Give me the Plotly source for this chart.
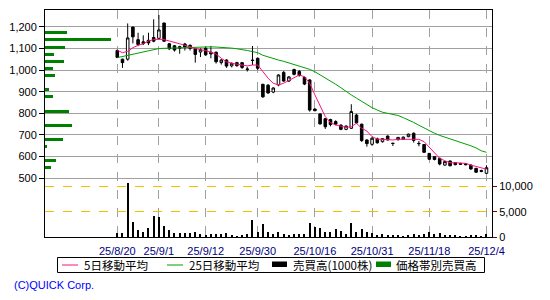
import plotly.graph_objects as go

# ---------------- data ----------------
dates = ["2025-08-20","2025-08-21","2025-08-22","2025-08-25","2025-08-26","2025-08-27","2025-08-28","2025-08-29",
         "2025-09-01","2025-09-02","2025-09-03","2025-09-04","2025-09-05","2025-09-08","2025-09-09","2025-09-10",
         "2025-09-11","2025-09-12","2025-09-16","2025-09-17","2025-09-18","2025-09-19","2025-09-22","2025-09-24",
         "2025-09-25","2025-09-26","2025-09-29","2025-09-30","2025-10-01","2025-10-02","2025-10-03","2025-10-06",
         "2025-10-07","2025-10-08","2025-10-09","2025-10-10","2025-10-14","2025-10-15","2025-10-16","2025-10-17",
         "2025-10-20","2025-10-21","2025-10-22","2025-10-23","2025-10-24","2025-10-27","2025-10-28","2025-10-29",
         "2025-10-30","2025-10-31","2025-11-04","2025-11-05","2025-11-06","2025-11-07","2025-11-10","2025-11-11",
         "2025-11-12","2025-11-13","2025-11-14","2025-11-17","2025-11-18","2025-11-19","2025-11-20","2025-11-21",
         "2025-11-25","2025-11-26","2025-11-27","2025-11-28","2025-12-01","2025-12-02","2025-12-03","2025-12-04"]

opens  = [1090,1050,1050,1198,1140,1130,1137,1150,1146,1217,1121,1112,1100,1120,1114,1098,1083,1100,1082,1082,
          1034,1046,1019,1034,1034,1005,1046,1054, 934, 930, 898, 931, 989, 949,1002, 993, 966, 954, 820, 797,
           775, 771, 762, 746, 726, 731, 792, 750, 677, 657, 682, 669, 695, 662, 678, 680, 692, 708, 661, 656,
           615, 600, 592, 561, 580, 572, 568, 567, 561, 546, 536, 523]
highs  = [1095,1052,1215,1200,1172,1160,1172,1234,1254,1218,1125,1115,1112,1125,1118,1100,1100,1108,1111,1085,
          1050,1050,1035,1038,1036,1015,1111,1058, 936, 935, 920, 980, 995, 972,1006,1000, 970, 958, 822, 800,
           778, 775, 768, 748, 745, 842, 798, 752, 680, 690, 688, 685, 698, 663, 690, 693, 706, 712, 672, 658,
           617, 602, 595, 580, 582, 575, 572, 570, 564, 548, 540, 560]
lows   = [1055,1010,1043,1123,1110,1115,1115,1128,1140,1130,1092,1085,1075,1090,1090,1034,1060,1065,1054,1030,
          1025,1010,1012,1015,1005, 993,1023,1000, 872, 890, 893, 925, 945, 945, 975, 970, 930, 808, 810, 748,
           728, 740, 745, 722, 722, 728, 752, 668, 646, 650, 660, 665, 675, 649, 675, 677, 690, 665, 648, 617,
           585, 583, 560, 558, 555, 560, 562, 560, 540, 525, 528, 520]
closes = [1058,1034,1148,1153,1118,1122,1125,1133,1185,1133,1098,1092,1108,1106,1100,1072,1094,1070,1074,1038,
          1046,1018,1031,1020,1012,1003,1044,1008, 876, 894, 917, 977, 949, 968, 980, 974, 935, 815, 812, 751,
           738, 748, 750, 726, 741, 808, 756, 674, 660, 685, 664, 683, 677, 661, 689, 690, 704, 675, 660, 620,
           588, 587, 566, 577, 558, 563, 565, 563, 543, 528, 532, 549]

volume = [790,790,10670,2960,1320,990,1780,4150,3950,2170,
          1320,790,790,790,790,990,530,330,530,530,
          530,790,330,130,330,530,3300,990,2640,990,
          530,990,530,330,530,530,530,2770,1980,1780,
          990,990,1520,1190,530,2770,990,1520,990,790,
          330,530,330,330,330,130,330,530,330,530,
          990,530,790,330,330,330,130,130,330,330,130,530]

ma5 = [1091,1080,1086,1103,1114,1121,1134,1140,1142,1140,1134,1126,1121,1114,1106,1098,1093,1090,1082,1074,
       1054,1038,1031,1026,1023,1019,1023,1023,993,962,939,931,939,952,966,977,969,939,885,831,
       785,757,746,741,735,738,754,731,718,692,681,680,677,677,680,680,681,681,680,669,
       643,615,592,581,572,572,569,569,561,554,546,542]

ma25 = [1057,1062,1068,1073,1078,1082,1087,1093,1099,1100,1101,1103,1104,1105,1106,1107,1108,1108,1107,1106,
        1105,1103,1101,1098,1095,1090,1085,1080,1068,1060,1053,1046,1040,1033,1026,1020,1013,1003,992,978,
        962,948,934,918,900,885,870,855,840,826,815,805,800,795,790,780,770,758,745,732,
        720,708,698,690,682,675,668,658,650,640,627,620]

band_price  = [1175,1140,1105,1073,1040,1007,975,910,878,810,745,680,648,583,550]
band_volume = [220,660,200,90,190,80,100,40,80,240,270,180,20,110,60]

tick_dates  = ["2025-08-20","2025-09-01","2025-09-12","2025-09-30","2025-10-16","2025-10-31","2025-11-18","2025-12-04"]
tick_labels = ["25/8/20","25/9/1","25/9/12","25/9/30","25/10/16","25/10/31","25/11/18","25/12/4"]

price_ticks = [500,600,700,800,900,1000,1100,1200]
vol_ticks   = [0,5000,10000]

# ---------------- layout geometry ----------------
W, H = 550, 300
ML, MR, MT, MB = 45, 58, 10, 63
PW, PH = W - ML - MR, H - MT - MB

def pxx(x):
    return (x - ML) / PW

def pxy(y):
    return (H - MB - y) / PH

xs = list(range(len(dates)))
tick_pos = [dates.index(d) for d in tick_dates]

fig = go.Figure()

# price band volume (horizontal bars)
fig.add_trace(go.Bar(
    x=band_volume, y=band_price, orientation="h", width=14,
    marker=dict(color="#008000", line=dict(width=0)),
    xaxis="x2", yaxis="y", showlegend=False, hoverinfo="skip"))

# volume
fig.add_trace(go.Bar(
    x=xs, y=volume, width=0.25,
    marker=dict(color="black", line=dict(width=0)),
    xaxis="x", yaxis="y2", showlegend=False, hoverinfo="skip"))

# candles
fig.add_trace(go.Candlestick(
    x=xs, open=opens, high=highs, low=lows, close=closes,
    increasing=dict(line=dict(color="black", width=1), fillcolor="white"),
    decreasing=dict(line=dict(color="black", width=1), fillcolor="black"),
    whiskerwidth=0, xaxis="x", yaxis="y", showlegend=False, hoverinfo="skip"))

# moving averages
fig.add_trace(go.Scatter(x=xs, y=ma25, mode="lines", line=dict(color="#00a000", width=1),
                         xaxis="x", yaxis="y", showlegend=False, hoverinfo="skip"))
fig.add_trace(go.Scatter(x=xs, y=ma5, mode="lines", line=dict(color="#ff1080", width=1),
                         xaxis="x", yaxis="y", showlegend=False, hoverinfo="skip"))

num_font = dict(family="Liberation Sans, Arial, sans-serif", size=11, color="black")

fig.update_layout(
    width=W, height=H,
    margin=dict(l=ML, r=MR, t=MT, b=MB, pad=0),
    paper_bgcolor="white", plot_bgcolor="white",
    showlegend=False,
    bargap=0,
    xaxis=dict(
        domain=[0, 1], range=[-13.9, 72.06],
        tickmode="array", tickvals=tick_pos, ticktext=tick_labels,
        tickfont=dict(family="Liberation Sans, Arial, sans-serif", size=11, color="#000080"),
        ticklabelstandoff=4,
        showgrid=True, gridcolor="#a0a0a0", griddash="dash", gridwidth=1,
        showline=True, mirror=True, linecolor="black", linewidth=1,
        ticks="", zeroline=False, rangeslider=dict(visible=False), fixedrange=True),
    xaxis2=dict(overlaying="x", range=[0, 660 * PW / 66], visible=False, fixedrange=True),
    yaxis=dict(
        domain=[0, 1], range=[229, 1277],
        tickmode="array", tickvals=price_ticks,
        ticktext=[f"{v:,}" for v in price_ticks],
        tickfont=num_font,
        showgrid=True, gridcolor="#a0a0a0", gridwidth=1,
        ticks="outside", ticklen=5, tickcolor="black",
        showline=True, mirror=True, linecolor="black", linewidth=1,
        zeroline=False, fixedrange=True),
    yaxis2=dict(
        overlaying="y", side="right", range=[0, 44860],
        tickmode="array", tickvals=vol_ticks,
        ticktext=[f"{v:,}" for v in vol_ticks],
        tickfont=num_font,
        showgrid=True, gridcolor="#f0c000", griddash="dash", gridwidth=1,
        ticks="outside", ticklen=4, tickcolor="#800000",
        showline=False, zeroline=False, fixedrange=True),
)

# ---------------- legend (drawn manually) ----------------
shapes = []
shapes.append(dict(type="rect", xref="paper", yref="paper",
                   x0=pxx(57.5), x1=pxx(484.5), y0=pxy(272.5), y1=pxy(257.5),
                   line=dict(color="black", width=1), fillcolor="white"))
ly = 265
shapes.append(dict(type="line", xref="paper", yref="paper", x0=pxx(62), x1=pxx(78), y0=pxy(ly), y1=pxy(ly),
                   line=dict(color="#ff1080", width=1)))
shapes.append(dict(type="line", xref="paper", yref="paper", x0=pxx(167), x1=pxx(183), y0=pxy(ly), y1=pxy(ly),
                   line=dict(color="#00a000", width=1)))
shapes.append(dict(type="rect", xref="paper", yref="paper", x0=pxx(272), x1=pxx(287), y0=pxy(267), y1=pxy(261.5),
                   line=dict(width=0), fillcolor="black"))
shapes.append(dict(type="rect", xref="paper", yref="paper", x0=pxx(376), x1=pxx(391), y0=pxy(267), y1=pxy(261.5),
                   line=dict(width=0), fillcolor="#008000"))

leg_font = dict(family="Noto Sans CJK JP, sans-serif", size=11.5, color="black")
annotations = []
for tx, label in [(82, "5日移動平均"), (187, "25日移動平均"), (291, "売買高(1000株)"), (394, "価格帯別売買高")]:
    annotations.append(dict(xref="paper", yref="paper", x=pxx(tx), y=pxy(264.5), text=label,
                            showarrow=False, xanchor="left", yanchor="middle", font=leg_font))
annotations.append(dict(xref="paper", yref="paper", x=pxx(12), y=pxy(285), text="(C)QUICK Corp.",
                        showarrow=False, xanchor="left", yanchor="middle",
                        font=dict(family="Liberation Sans, Arial, sans-serif", size=11, color="#0000ff")))

fig.update_layout(shapes=shapes, annotations=annotations)

fig.write_html("out.html")
